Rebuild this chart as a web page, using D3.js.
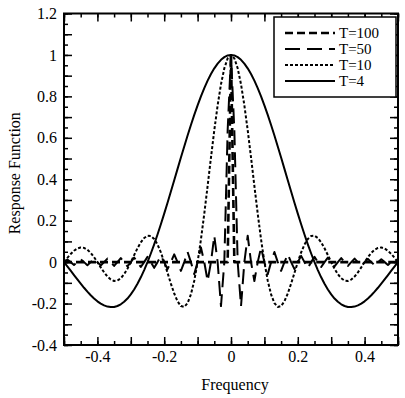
<!DOCTYPE html>
<html>
<head>
<meta charset="utf-8">
<script src="https://cdn.jsdelivr.net/npm/d3@7"></script>
<style>
  body { margin: 0; background: #fff; }
  text { font-family: "Liberation Serif", "Times New Roman", serif; fill: #000; }
</style>
</head>
<body>
<svg id="chart" width="405" height="398"></svg>
<script>
var width = 405;
var height = 398;
var margin = { left: 64, right: 7, top: 13.5, bottom: 53 };

// frequency grid, -0.5 .. 0.5
var freq = [
  -0.50, -0.49, -0.48, -0.47, -0.46, -0.45, -0.44, -0.43, -0.42, -0.41,
  -0.40, -0.39, -0.38, -0.37, -0.36, -0.35, -0.34, -0.33, -0.32, -0.31,
  -0.30, -0.29, -0.28, -0.27, -0.26, -0.25, -0.24, -0.23, -0.22, -0.21,
  -0.20, -0.19, -0.18, -0.17, -0.16, -0.15, -0.14, -0.13, -0.12, -0.11,
  -0.10, -0.09, -0.08, -0.07, -0.06, -0.05, -0.04, -0.03, -0.02, -0.01,
  0.00,
  0.01, 0.02, 0.03, 0.04, 0.05, 0.06, 0.07, 0.08, 0.09, 0.10,
  0.11, 0.12, 0.13, 0.14, 0.15, 0.16, 0.17, 0.18, 0.19, 0.20,
  0.21, 0.22, 0.23, 0.24, 0.25, 0.26, 0.27, 0.28, 0.29, 0.30,
  0.31, 0.32, 0.33, 0.34, 0.35, 0.36, 0.37, 0.38, 0.39, 0.40,
  0.41, 0.42, 0.43, 0.44, 0.45, 0.46, 0.47, 0.48, 0.49, 0.50
];

var respT100 = [
  0, 0, 0, 0, 0, 0, 0, 0, 0, 0,
  0, 0, 0, 0, 0, 0, 0, 0, 0, 0,
  0, 0, 0, 0, 0, 0, 0, 0, 0, 0,
  0, 0, 0, 0, 0, 0, 0, 0, 0, 0,
  0, 0, 0, 0, 0, 0, 0, 0, 0, 0,
  1,
  0, 0, 0, 0, 0, 0, 0, 0, 0, 0,
  0, 0, 0, 0, 0, 0, 0, 0, 0, 0,
  0, 0, 0, 0, 0, 0, 0, 0, 0, 0,
  0, 0, 0, 0, 0, 0, 0, 0, 0, 0,
  0, 0, 0, 0, 0, 0, 0, 0, 0, 0
];

var respT50 = [
  0, .0130, 0, -.0135, 0, .0141, 0, -.0148, 0, .0155,
  0, -.0163, 0, .0172, 0, -.0182, 0, .0193, 0, -.0205,
  0, .0220, 0, -.0236, 0, .0255, 0, -.0277, 0, .0303,
  0, -.0335, 0, .0374, 0, -.0424, 0, .0490, 0, -.0579,
  0, .0707, 0, -.0909, 0, .1273, 0, -.2122, 0, .6366,
  1,
  .6366, 0, -.2122, 0, .1273, 0, -.0909, 0, .0707, 0,
  -.0579, 0, .0490, 0, -.0424, 0, .0374, 0, -.0335, 0,
  .0303, 0, -.0277, 0, .0255, 0, -.0236, 0, .0220, 0,
  -.0205, 0, .0193, 0, -.0182, 0, .0172, 0, -.0163, 0,
  .0155, 0, -.0148, 0, .0141, 0, -.0135, 0, .0130, 0
];

var respT10 = [
  0, .0201, .0390, .0548, .0658, .0707, .0688, .0599, .0445, .0240,
  0, -.0252, -.0492, -.0696, -.0841, -.0909, -.0890, -.0780, -.0585, -.0317,
  0, .0339, .0668, .0954, .1164, .1273, .1261, .1120, .0850, .0468,
  0, -.0518, -.1039, -.1515, -.1892, -.2122, -.2162, -.1981, -.1559, -.0894,
  0, .1093, .2339, .3679, .5046, .6366, .7568, .8584, .9355, .9836,
  1,
  .9836, .9355, .8584, .7568, .6366, .5046, .3679, .2339, .1093, 0,
  -.0894, -.1559, -.1981, -.2162, -.2122, -.1892, -.1515, -.1039, -.0518, 0,
  .0468, .0850, .1120, .1261, .1273, .1164, .0954, .0668, .0339, 0,
  -.0317, -.0585, -.0780, -.0890, -.0909, -.0841, -.0696, -.0492, -.0252, 0,
  .0240, .0445, .0599, .0688, .0707, .0658, .0548, .0390, .0201, 0
];

var respT4 = [
  0, -.0204, -.0412, -.0623, -.0833, -.1039, -.1238, -.1426, -.1600, -.1756,
  -.1892, -.2004, -.2090, -.2147, -.2171, -.2162, -.2118, -.2036, -.1916, -.1757,
  -.1559, -.1322, -.1046, -.0733, -.0384, 0, .0416, .0860, .1332, .1826,
  .2339, .2867, .3406, .3952, .4500, .5046, .5583, .6109, .6618, .7106,
  .7568, .8000, .8399, .8759, .9079, .9355, .9584, .9765, .9895, .9974,
  1,
  .9974, .9895, .9765, .9584, .9355, .9079, .8759, .8399, .8000, .7568,
  .7106, .6618, .6109, .5583, .5046, .4500, .3952, .3406, .2867, .2339,
  .1826, .1332, .0860, .0416, 0, -.0384, -.0733, -.1046, -.1322, -.1559,
  -.1757, -.1916, -.2036, -.2118, -.2162, -.2171, -.2147, -.2090, -.2004, -.1892,
  -.1756, -.1600, -.1426, -.1238, -.1039, -.0833, -.0623, -.0412, -.0204, 0
];

var seriesNames = ["T=100", "T=50", "T=10", "T=4"];
var seriesValues = [respT100, respT50, respT10, respT4];
var seriesDash = ["8,4", "15,7", "3,2", null];
var seriesWidth = [2.6, 2, 2, 2];

var xTickLabels = ["-0.4", "-0.2", "0", "0.2", "0.4"];
var yTickLabels = ["-0.4", "-0.2", "0", "0.2", "0.4", "0.6", "0.8", "1", "1.2"];

var x = d3.scaleLinear().domain([-0.5, 0.5]).range([margin.left, width - margin.right]);
var y = d3.scaleLinear().domain([-0.4, 1.2]).range([height - margin.bottom, margin.top]);

var svg = d3.select("#chart");

svg.append("clipPath").attr("id", "plotClip")
  .append("rect")
  .attr("x", margin.left).attr("y", margin.top)
  .attr("width", width - margin.left - margin.right)
  .attr("height", height - margin.top - margin.bottom);

// curves
var line = d3.line()
  .x(function(d, i) { return x(freq[i]); })
  .y(function(d) { return y(d); });

var curves = svg.append("g").attr("clip-path", "url(#plotClip)");
seriesValues.forEach(function(vals, s) {
  curves.append("path")
    .datum(vals)
    .attr("d", line)
    .attr("fill", "none")
    .attr("stroke", "#000")
    .attr("stroke-width", seriesWidth[s])
    .attr("stroke-dasharray", seriesDash[s])
    .attr("stroke-linejoin", "round");
});

// axes, ticks pointing inward on all four sides
function styleAxis(g) {
  g.select(".domain").remove();
  g.selectAll(".tick line").attr("stroke", "#000").attr("stroke-width", 1.5);
  g.selectAll("text").style("font-size", "16px").style("font-family", "Liberation Serif, serif");
}

var xMajor = d3.range(-5, 6).map(function(v) { return v / 10; });
var xMinor = d3.range(-10, 11).map(function(v) { return v / 20; });
var yMajor = d3.range(-4, 13).map(function(v) { return v / 10; });
var yMinor = d3.range(-8, 25).map(function(v) { return v / 20; });

var bottomY = height - margin.bottom;
var rightX = width - margin.right;

svg.append("g").attr("transform", "translate(0," + bottomY + ")")
  .call(d3.axisBottom(x).tickValues(xMinor).tickSize(-4).tickFormat("")).call(styleAxis);
svg.append("g").attr("transform", "translate(0," + bottomY + ")")
  .call(d3.axisBottom(x).tickValues(xMajor).tickSize(-8).tickFormat("")).call(styleAxis);
svg.append("g").attr("transform", "translate(0," + bottomY + ")")
  .call(d3.axisBottom(x).tickValues(xTickLabels.map(Number)).tickSize(0).tickPadding(6)
    .tickFormat(function(d, i) { return xTickLabels[i]; }))
  .call(styleAxis);

svg.append("g").attr("transform", "translate(0," + margin.top + ")")
  .call(d3.axisTop(x).tickValues(xMinor).tickSize(-4).tickFormat("")).call(styleAxis);
svg.append("g").attr("transform", "translate(0," + margin.top + ")")
  .call(d3.axisTop(x).tickValues(xMajor).tickSize(-8).tickFormat("")).call(styleAxis);

svg.append("g").attr("transform", "translate(" + margin.left + ",0)")
  .call(d3.axisLeft(y).tickValues(yMinor).tickSize(-4).tickFormat("")).call(styleAxis);
svg.append("g").attr("transform", "translate(" + margin.left + ",0)")
  .call(d3.axisLeft(y).tickValues(yMajor).tickSize(-8).tickFormat("")).call(styleAxis);
svg.append("g").attr("transform", "translate(" + margin.left + ",0)")
  .call(d3.axisLeft(y).tickValues(yTickLabels.map(Number)).tickSize(0).tickPadding(7)
    .tickFormat(function(d, i) { return yTickLabels[i]; }))
  .call(styleAxis);

svg.append("g").attr("transform", "translate(" + rightX + ",0)")
  .call(d3.axisRight(y).tickValues(yMinor).tickSize(-4).tickFormat("")).call(styleAxis);
svg.append("g").attr("transform", "translate(" + rightX + ",0)")
  .call(d3.axisRight(y).tickValues(yMajor).tickSize(-8).tickFormat("")).call(styleAxis);

// frame
svg.append("rect")
  .attr("x", margin.left).attr("y", margin.top)
  .attr("width", rightX - margin.left).attr("height", bottomY - margin.top)
  .attr("fill", "none").attr("stroke", "#000").attr("stroke-width", 2);

// axis titles
svg.append("text")
  .attr("x", (margin.left + rightX) / 2 + 4).attr("y", 390)
  .attr("text-anchor", "middle").style("font-size", "16px")
  .text("Frequency");

svg.append("text")
  .attr("transform", "translate(20," + ((margin.top + bottomY) / 2 - 6) + ") rotate(-90)")
  .attr("text-anchor", "middle").style("font-size", "16px")
  .text("Response Function");

// legend
var legend = svg.append("g");
legend.append("rect")
  .attr("x", 274).attr("y", 17).attr("width", 122).attr("height", 80)
  .attr("fill", "#fff").attr("stroke", "#000").attr("stroke-width", 1.5);
var legendRows = [33, 49, 65, 81];
seriesNames.forEach(function(name, s) {
  legend.append("line")
    .attr("x1", 285).attr("x2", 335)
    .attr("y1", legendRows[s]).attr("y2", legendRows[s])
    .attr("stroke", "#000")
    .attr("stroke-width", seriesWidth[s])
    .attr("stroke-dasharray", seriesDash[s]);
  legend.append("text")
    .attr("x", 339).attr("y", legendRows[s] + 5)
    .style("font-size", "15px")
    .text(name);
});
</script>
</body>
</html>
